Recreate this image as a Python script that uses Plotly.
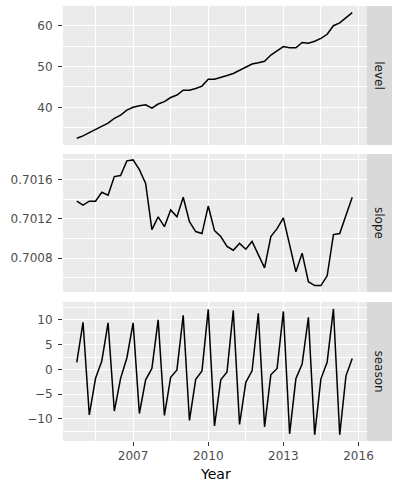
import plotly.graph_objects as go

# Quarterly time index 2004 Q4 .. 2015 Q4
start_year = 2004.75
n_obs = 45
time = [start_year + 0.25 * i for i in range(n_obs)]

level = [32.4, 33.0, 33.8, 34.5, 35.4, 36.1, 37.3, 38.1, 39.3, 40.0,
         40.4, 40.6, 39.8, 40.8, 41.4, 42.4, 43.0, 44.2, 44.2, 44.6,
         45.2, 46.9, 46.9, 47.3, 47.8, 48.3, 49.1, 49.7, 50.6, 50.9,
         51.3, 52.8, 53.8, 54.9, 54.6, 54.6, 55.9, 55.7, 56.2, 56.9,
         57.9, 60.0, 60.7, 62.0, 63.2]

slope = [0.70138, 0.70134, 0.70138, 0.70138, 0.70147, 0.70144, 0.70163, 0.70164, 0.70179, 0.70180,
         0.70170, 0.70156, 0.70109, 0.70122, 0.70112, 0.70129, 0.70122, 0.70142, 0.70117, 0.70107,
         0.70105, 0.70133, 0.70108, 0.70102, 0.70092, 0.70088, 0.70095, 0.70089, 0.70097, 0.70083,
         0.70070, 0.70102, 0.70110, 0.70121, 0.70092, 0.70066, 0.70085, 0.70056, 0.70052, 0.70052,
         0.70062, 0.70104, 0.70105, 0.70123, 0.70142]

season = [1.4, 9.5, -9.2, -1.8, 1.7, 9.4, -8.4, -1.8, 2.3, 9.4,
          -8.9, -2.1, 0.2, 10.0, -9.3, -1.6, -0.1, 10.9, -10.3, -2.0,
          -0.3, 12.1, -11.4, -2.1, -0.5, 11.9, -11.1, -2.6, -0.3, 11.3,
          -11.6, -1.1, 0.2, 11.7, -13.0, -1.9, 1.1, 10.5, -13.2, -1.9,
          1.5, 12.2, -13.2, -1.3, 2.2]

panel_names = ["level", "slope", "season"]
x_title = "Year"
x_ticks = [2007, 2010, 2013, 2016]
x_minor = [2005.5, 2008.5, 2011.5, 2014.5]
level_ticks = [40, 50, 60]
level_minor = [35, 45, 55]
slope_ticks = [0.7008, 0.7012, 0.7016]
slope_minor = [0.7006, 0.7010, 0.7014, 0.7018]
season_ticks = [-10, -5, 0, 5, 10]
season_minor = [-12.5, -7.5, -2.5, 2.5, 7.5, 12.5]

W, H = 395, 485
ml, mr, mt, mb = 63, 28, 6, 44
pw = W - ml - mr
ph = H - mt - mb

def dom(top_px, bot_px):
    return [(H - mb - bot_px) / ph, (H - mb - top_px) / ph]

def py(px):
    return (H - mb - px) / ph

def px_x(px):
    return (px - ml) / pw

domains = [dom(6, 145), dom(154, 292), dom(302, 441)]

PANEL_BG = "#EBEBEB"
STRIP_BG = "#D9D9D9"
FONT = "DejaVu Sans"
TICK_FONT = dict(family=FONT, size=12, color="#4D4D4D")

fig = go.Figure()
series = [level, slope, season]
for i, ys in enumerate(series):
    sfx = "" if i == 0 else str(i + 1)
    fig.add_trace(go.Scatter(x=time, y=ys, mode="lines",
                             line=dict(color="black", width=1.5),
                             xaxis="x" + sfx, yaxis="y" + sfx,
                             showlegend=False, hoverinfo="skip"))

xrange = [2004.2, 2016.34]
yranges = [[30.76, 64.83], [0.700455, 0.701860], [-14.45, 13.6]]
yticks = [level_ticks, slope_ticks, season_ticks]
yminor = [level_minor, slope_minor, season_minor]
yfmt = [None, ".4f", None]

layout = dict(width=W, height=H, margin=dict(l=ml, r=mr, t=mt, b=mb, autoexpand=False),
              paper_bgcolor="white", plot_bgcolor=PANEL_BG, showlegend=False)

for i in range(3):
    sfx = "" if i == 0 else str(i + 1)
    last = i == 2
    xa = dict(domain=[0, 1], anchor="y" + sfx, range=xrange, automargin=False,
              tickvals=x_ticks, showgrid=True, gridcolor="white", gridwidth=1.2,
              zeroline=False, showline=False,
              minor=dict(tickvals=x_minor, showgrid=True, gridcolor="white", gridwidth=0.6),
              showticklabels=last,
              ticks="outside" if last else "", ticklen=4, tickwidth=1, tickcolor="#333333",
              tickfont=TICK_FONT, ticklabelstandoff=0)
    if not last:
        xa["matches"] = "x3"
    layout["xaxis" + sfx] = xa
    ya = dict(domain=domains[i], anchor="x" + sfx, range=yranges[i], automargin=False,
              tickvals=yticks[i], showgrid=True, gridcolor="white", gridwidth=1.2,
              zeroline=False, showline=False,
              minor=dict(tickvals=yminor[i], showgrid=True, gridcolor="white", gridwidth=0.6),
              ticks="outside", ticklen=4, tickwidth=1, tickcolor="#333333",
              tickfont=TICK_FONT, ticklabelstandoff=3)
    if yfmt[i]:
        ya["tickformat"] = yfmt[i]
    layout["yaxis" + sfx] = ya

fig.update_layout(**layout)

shapes = []
annotations = []
strip_x0 = px_x(367)
strip_x1 = px_x(392)
for i in range(3):
    d = domains[i]
    shapes.append(dict(type="rect", xref="paper", yref="paper",
                       x0=strip_x0, x1=strip_x1, y0=d[0], y1=d[1],
                       fillcolor=STRIP_BG, line=dict(width=0), layer="above",
                       label=dict(text=panel_names[i], textangle=90,
                                  textposition="middle center",
                                  font=dict(family=FONT, size=12, color="#1A1A1A"))))
annotations.append(dict(text=x_title, xref="paper", yref="paper",
                        x=0.5, y=py(474), showarrow=False,
                        font=dict(family=FONT, size=14, color="black"),
                        xanchor="center", yanchor="middle"))
fig.update_layout(shapes=shapes, annotations=annotations)

fig.write_html("out.html", config={"displayModeBar": False},
               post_script="document.body.style.margin='0';document.body.style.padding='0';")
